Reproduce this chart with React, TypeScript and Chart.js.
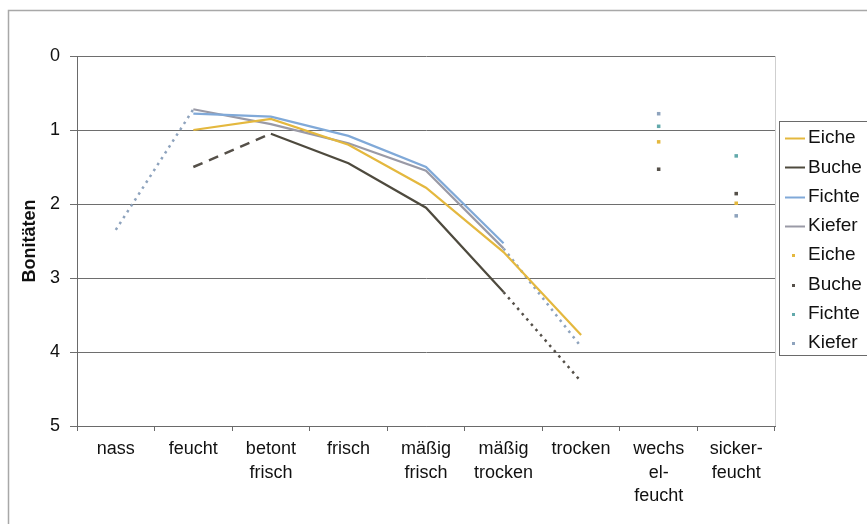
import React, { useEffect, useRef } from "react";
import { Chart, registerables } from "chart.js";

Chart.register(...registerables);

// ---- data ----
const categories: string[][] = [
  ["nass"],
  ["feucht"],
  ["betont", "frisch"],
  ["frisch"],
  ["mäßig", "frisch"],
  ["mäßig", "trocken"],
  ["trocken"],
  ["wechs", "el-", "feucht"],
  ["sicker-", "feucht"],
];
const yMin = 0;
const yMax = 5;
const yStep = 1;
const yTitle = "Bonitäten";

const seriesNames = ["Eiche", "Buche", "Fichte", "Kiefer"];

const eiche = [null, 1.0, 0.85, 1.2, 1.78, 2.65, 3.77, null, null];
const buche = [null, null, 1.05, 1.45, 2.05, 3.19, null, null, null];
const fichte = [null, 0.78, 0.82, 1.08, 1.5, 2.53, null, null, null];
const kiefer = [null, 0.72, 0.92, 1.18, 1.55, 2.6, null, null, null];

const eicheExtra = [null, null, null, null, null, null, null, 1.16, 1.99];
const bucheExtra = [null, 1.5, 1.05, null, null, 3.19, 4.4, 1.53, 1.86];
const fichteExtra = [null, null, null, null, null, null, null, 0.95, 1.35];
const kieferExtra = [2.35, 0.72, null, null, null, 2.6, 3.93, 0.78, 2.16];

// ---- styles ----
const FONT = "'Liberation Sans', Arial, sans-serif";
const lineColors = ["#e4b83e", "#4e4a3e", "#80a9d8", "#9a9aa6"];
const extraColors = ["#e4b83e", "#555049", "#62a9ab", "#8ea3bd"];

const solidData = [eiche, buche, fichte, kiefer];
const extraData = [eicheExtra, bucheExtra, fichteExtra, kieferExtra];

const framePlugin = {
  id: "frame",
  beforeDraw(chart: any) {
    const ctx = chart.ctx;
    ctx.save();
    ctx.fillStyle = "#ffffff";
    ctx.fillRect(0, 0, chart.width, chart.height);
    ctx.strokeStyle = "#a8a8a8";
    ctx.lineWidth = 1.5;
    ctx.beginPath();
    ctx.moveTo(8.5, chart.height);
    ctx.lineTo(8.5, 10.5);
    ctx.lineTo(chart.width, 10.5);
    ctx.stroke();
    const a = chart.chartArea;
    ctx.strokeStyle = "#cfcfcf";
    ctx.lineWidth = 1;
    ctx.beginPath();
    ctx.moveTo(a.right + 0.5, a.top);
    ctx.lineTo(a.right + 0.5, a.bottom);
    ctx.stroke();
    ctx.restore();
  },
};

const boxLegendPlugin = {
  id: "boxLegend",
  afterDraw(chart: any) {
    const ctx = chart.ctx;
    const boxLeft = 779.5;
    const boxTop = 121.5;
    const boxHeight = 234;
    const firstY = 138;
    const step = 29.3;
    ctx.save();
    ctx.fillStyle = "#ffffff";
    ctx.fillRect(boxLeft, boxTop, chart.width, boxHeight);
    ctx.strokeStyle = "#6a6a6a";
    ctx.lineWidth = 1;
    ctx.strokeRect(boxLeft, boxTop, chart.width, boxHeight);
    ctx.font = `19px ${FONT}`;
    ctx.textBaseline = "middle";
    ctx.textAlign = "left";
    chart.data.datasets.forEach((ds: any, i: number) => {
      const y = firstY + i * step;
      if (ds.legendKind === "line") {
        ctx.strokeStyle = ds.borderColor;
        ctx.lineWidth = 2;
        ctx.beginPath();
        ctx.moveTo(785, Math.round(y) + 0.5);
        ctx.lineTo(805, Math.round(y) + 0.5);
        ctx.stroke();
      } else {
        ctx.fillStyle = ds.pointBackgroundColor;
        ctx.fillRect(792, Math.round(y) - 1, 3, 3);
      }
      ctx.fillStyle = "#111111";
      ctx.fillText(ds.label, 808, y);
    });
    ctx.restore();
  },
};

export default function App() {
  const ref = useRef<HTMLCanvasElement>(null);

  useEffect(() => {
    if (!ref.current) return;
    const datasets: any[] = [];
    seriesNames.forEach((name, i) => {
      datasets.push({
        label: name,
        data: solidData[i],
        borderColor: lineColors[i],
        backgroundColor: lineColors[i],
        borderWidth: 2.2,
        pointRadius: 0,
        spanGaps: false,
        tension: 0,
        legendKind: "line",
      });
    });
    seriesNames.forEach((name, i) => {
      const color = extraColors[i];
      datasets.push({
        label: name,
        data: extraData[i],
        borderColor: color,
        backgroundColor: color,
        pointBackgroundColor: color,
        pointBorderColor: color,
        pointBorderWidth: 0,
        pointStyle: "rect",
        pointRadius: (c: any) => (c.dataIndex >= 7 ? 2.5 : 0),
        borderWidth: 2.5,
        spanGaps: false,
        tension: 0,
        legendKind: "point",
        segment: {
          borderColor: (c: any) => (c.p0DataIndex >= 6 ? "rgba(0,0,0,0)" : undefined),
          borderDash: (c: any) => (name === "Buche" && c.p0DataIndex === 1 ? [10, 7] : [2.5, 4.5]),
        },
      });
    });

    const chart = new Chart(ref.current, {
      type: "line",
      data: { labels: categories as any, datasets },
      plugins: [framePlugin, boxLegendPlugin],
      options: {
        responsive: false,
        animation: false,
        devicePixelRatio: 1,
        layout: { padding: { left: 0, top: 56, right: 92, bottom: 0 } },
        plugins: {
          legend: { display: false },
          tooltip: { enabled: false },
        },
        scales: {
          x: {
            type: "category",
            offset: true,
            grid: {
              offset: true,
              drawOnChartArea: false,
              drawTicks: true,
              tickLength: 5,
              color: "#6a6a6a",
            },
            border: { color: "#6a6a6a" },
            ticks: {
              autoSkip: false,
              maxRotation: 0,
              minRotation: 0,
              padding: 7,
              color: "#111111",
              font: { family: FONT, size: 18, lineHeight: 1.28 },
            },
            afterFit: (s: any) => {
              s.height = 98;
            },
          },
          y: {
            reverse: true,
            min: yMin,
            max: yMax,
            ticks: {
              stepSize: yStep,
              padding: 10,
              color: "#111111",
              font: { family: FONT, size: 18 },
            },
            grid: { color: "#6e6e6e", tickLength: 7 },
            border: { color: "#6a6a6a" },
            title: {
              display: true,
              text: yTitle,
              color: "#111111",
              font: { family: FONT, size: 18, weight: "bold" },
              padding: { top: 19, bottom: 0 },
            },
            afterFit: (s: any) => {
              s.width = 77;
            },
          },
        },
      } as any,
    });
    return () => chart.destroy();
  }, []);

  return (
    <canvas
      ref={ref}
      width={867}
      height={524}
      style={{ position: "fixed", left: 0, top: 0, width: 867, height: 524 }}
    />
  );
}
